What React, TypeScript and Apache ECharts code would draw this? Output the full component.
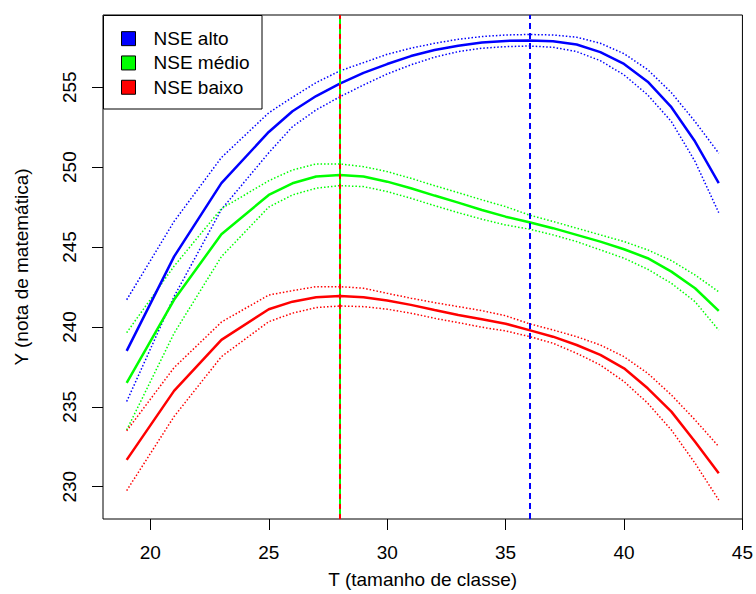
import React, { useEffect, useRef } from "react";
import * as echarts from "echarts";

const FONT = "'Liberation Sans', Arial, Helvetica, sans-serif";

const T = [19, 21, 23, 25, 26, 27, 28, 29, 30, 31, 32, 33, 34, 35, 36, 37, 38, 39, 40, 41, 42, 43, 44];

const blue = [238.5, 244.4, 249.0, 252.2, 253.5, 254.45, 255.22, 255.9, 256.45, 256.95, 257.33, 257.6, 257.8, 257.9, 257.92, 257.88, 257.67, 257.2, 256.46, 255.35, 253.75, 251.6, 249.0];
const blueHi = [241.7, 246.6, 250.6, 253.4, 254.37, 255.29, 256.02, 256.54, 257.06, 257.44, 257.75, 258.0, 258.17, 258.27, 258.3, 258.27, 258.13, 257.75, 257.1, 256.1, 254.66, 252.85, 250.87];
const blueLo = [235.33, 241.9, 247.35, 250.9, 252.53, 253.58, 254.4, 255.14, 255.83, 256.4, 256.88, 257.23, 257.44, 257.54, 257.58, 257.5, 257.23, 256.66, 255.77, 254.52, 252.85, 250.35, 247.15];

const green = [236.5, 241.7, 245.8, 248.26, 248.99, 249.41, 249.51, 249.41, 249.09, 248.68, 248.22, 247.78, 247.32, 246.9, 246.55, 246.18, 245.76, 245.34, 244.86, 244.3, 243.46, 242.42, 241.0];
const greenHi = [239.64, 243.8, 247.4, 249.15, 249.82, 250.2, 250.2, 250.03, 249.72, 249.3, 248.84, 248.4, 247.95, 247.53, 247.0, 246.6, 246.18, 245.76, 245.34, 244.82, 244.15, 243.25, 242.2];
const greenLo = [233.55, 239.6, 244.4, 247.5, 248.26, 248.68, 248.84, 248.78, 248.47, 248.05, 247.59, 247.15, 246.74, 246.38, 246.12, 245.76, 245.34, 244.82, 244.3, 243.61, 242.73, 241.58, 239.8];

const red = [231.68, 236.0, 239.19, 241.11, 241.58, 241.86, 241.94, 241.86, 241.65, 241.38, 241.06, 240.75, 240.48, 240.2, 239.8, 239.39, 238.87, 238.25, 237.41, 236.16, 234.7, 232.82, 230.84];
const redHi = [233.5, 237.45, 240.3, 242.0, 242.27, 242.52, 242.52, 242.42, 242.1, 241.8, 241.52, 241.27, 241.02, 240.7, 240.2, 239.81, 239.39, 238.87, 238.14, 237.1, 235.74, 234.18, 232.51];
const redLo = [229.76, 234.39, 238.14, 240.33, 240.86, 241.21, 241.31, 241.27, 241.11, 240.86, 240.54, 240.27, 239.98, 239.75, 239.4, 238.98, 238.35, 237.62, 236.58, 235.23, 233.55, 231.47, 229.17];

const X_TICKS = [20, 25, 30, 35, 40, 45];
const Y_TICKS = [230, 235, 240, 245, 250, 255];

const LEGEND_NAMES = ["NSE alto", "NSE médio", "NSE baixo"];
const OPT_T_ALTO = 36;
const OPT_T_MEDIO = 28;
const OPT_T_BAIXO = 28;

const BLUE = "#0000ff";
const GREEN = "#00ff00";
const RED = "#ff0000";

const pairs = (ys: number[]) => T.map((t, i) => [t, ys[i]]);

function mainSeries(name: string, ys: number[], color: string, markLine: any) {
  return {
    name,
    type: "line",
    data: pairs(ys),
    showSymbol: false,
    symbol: "none",
    lineStyle: { color, width: 2.5 },
    itemStyle: { color },
    z: 3,
    markLine,
  };
}

function dottedSeries(name: string, ys: number[], color: string) {
  return {
    name,
    type: "line",
    data: pairs(ys),
    showSymbol: false,
    symbol: "none",
    lineStyle: { color, width: 1.5, type: [1.5, 2] },
    itemStyle: { color },
    z: 2,
  };
}

function vline(x: number, color: string, width: number, type: any) {
  return {
    silent: true,
    symbol: ["none", "none"],
    label: { show: false },
    lineStyle: { color, width, type },
    data: [{ xAxis: x }],
  };
}

export default function App() {
  const ref = useRef<HTMLDivElement>(null);
  useEffect(() => {
    if (!ref.current) return;
    const chart = echarts.init(ref.current, undefined, { renderer: "svg" });
    const axisText = { fontSize: 19, color: "#000", fontFamily: FONT };
    const option: any = {
      animation: false,
      backgroundColor: "#fff",
      textStyle: { fontFamily: FONT },
      grid: {
        left: 103,
        top: 15,
        right: 11,
        bottom: 75,
        show: true,
        borderColor: "#000",
        borderWidth: 1,
        backgroundColor: "#fff",
      },
      xAxis: {
        type: "value",
        min: 18,
        max: 45,
        name: "T (tamanho de classe)",
        nameLocation: "middle",
        nameGap: 51,
        nameTextStyle: axisText,
        axisLine: { show: false },
        axisTick: { show: true, length: 11, customValues: X_TICKS, lineStyle: { color: "#000", width: 1 } },
        axisLabel: { ...axisText, customValues: X_TICKS, margin: 24 },
        splitLine: { show: false },
      },
      yAxis: {
        type: "value",
        min: 227.98,
        max: 259.52,
        name: "Y (nota de matemática)",
        nameLocation: "middle",
        nameGap: 72,
        nameTextStyle: axisText,
        axisLine: { show: false },
        axisTick: { show: true, length: 11, customValues: Y_TICKS, lineStyle: { color: "#000", width: 1 } },
        axisLabel: { ...axisText, customValues: Y_TICKS, rotate: 90, margin: 24 },
        splitLine: { show: false },
      },
      legend: {
        left: 121,
        top: 26.5,
        orient: "vertical",
        itemWidth: 14,
        itemHeight: 14,
        itemGap: 0,
        padding: 0,
        z: 10,
        selectedMode: false,
        textStyle: { fontSize: 19, color: "#000", fontFamily: FONT, lineHeight: 24.3, padding: [0, 0, 0, 13] },
        data: [
          { name: LEGEND_NAMES[0], icon: "rect", itemStyle: { color: BLUE, borderColor: "#000", borderWidth: 1 } },
          { name: LEGEND_NAMES[1], icon: "rect", itemStyle: { color: GREEN, borderColor: "#000", borderWidth: 1 } },
          { name: LEGEND_NAMES[2], icon: "rect", itemStyle: { color: RED, borderColor: "#000", borderWidth: 1 } },
        ],
      },
      graphic: [
        {
          type: "rect",
          z: 5,
          shape: { x: 103.5, y: 15.5, width: 158.5, height: 93.5 },
          style: { fill: "#fff", stroke: "#000", lineWidth: 1 },
        },
      ],
      series: [
        dottedSeries("alto_sup", blueHi, BLUE),
        dottedSeries("alto_inf", blueLo, BLUE),
        mainSeries(LEGEND_NAMES[0], blue, BLUE, vline(OPT_T_ALTO, BLUE, 2, [6, 4])),
        dottedSeries("medio_sup", greenHi, GREEN),
        dottedSeries("medio_inf", greenLo, GREEN),
        mainSeries(LEGEND_NAMES[1], green, GREEN, vline(OPT_T_MEDIO, GREEN, 2, "solid")),
        dottedSeries("baixo_sup", redHi, RED),
        dottedSeries("baixo_inf", redLo, RED),
        mainSeries(LEGEND_NAMES[2], red, RED, vline(OPT_T_BAIXO, RED, 2, [5, 5])),
      ],
    };
    chart.setOption(option);
    return () => chart.dispose();
  }, []);
  return (
    <div
      ref={ref}
      style={{ position: "fixed", left: 0, top: 0, width: 756, height: 594, background: "#fff" }}
    />
  );
}
